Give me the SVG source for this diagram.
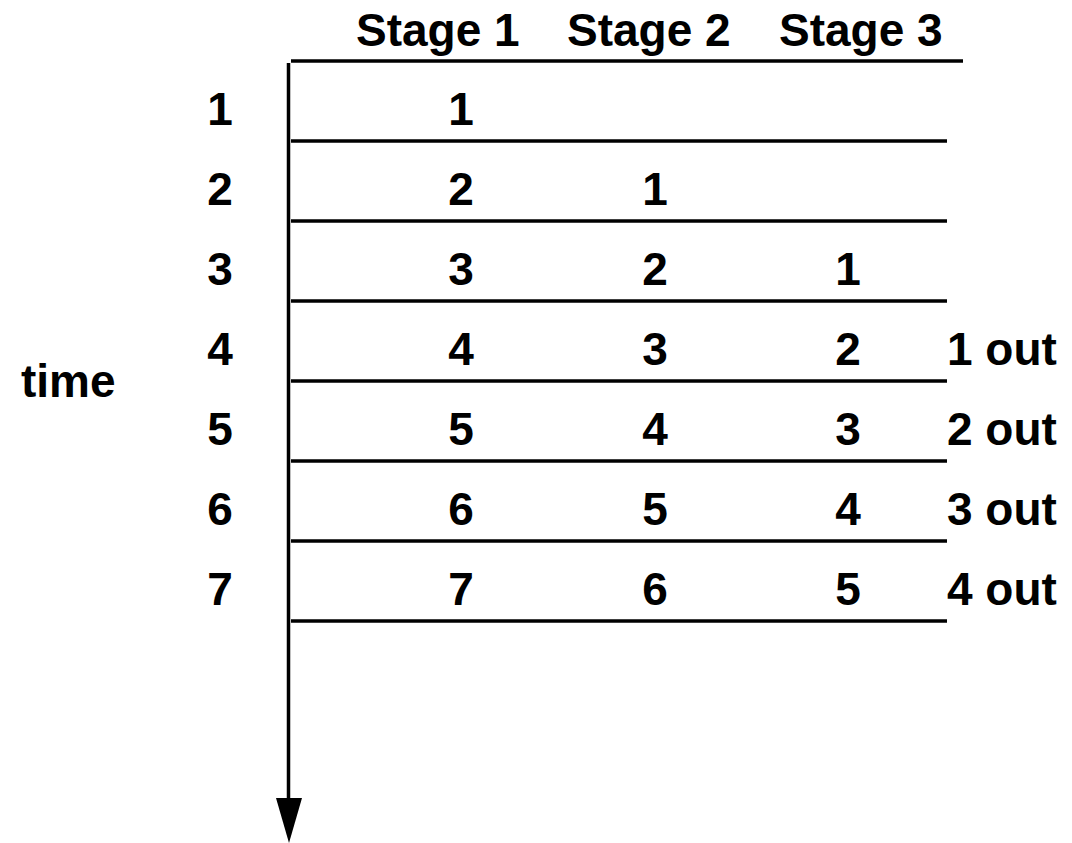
<svg xmlns="http://www.w3.org/2000/svg" width="1072" height="843" viewBox="0 0 1072 843">
  <style>
    text { font-family: "Liberation Sans", Arial, sans-serif; font-weight: bold; font-size: 46px; fill: #000; }
    .mid { text-anchor: middle; }
    .rule { stroke: #000; stroke-width: 3.5; fill: none; }
  </style>
  <rect width="1072" height="843" fill="#fff"/>

  <!-- column headings -->
  <g id="headers">
    <text x="356" y="46">Stage 1</text>
    <text x="567" y="46">Stage 2</text>
    <text x="779" y="46">Stage 3</text>
  </g>

  <!-- time axis and row separators -->
  <g id="connectors">
    <line class="rule" x1="291" y1="61" x2="963" y2="61"/>
    <line class="rule" x1="291" y1="141" x2="947" y2="141"/>
    <line class="rule" x1="291" y1="221" x2="947" y2="221"/>
    <line class="rule" x1="291" y1="301" x2="947" y2="301"/>
    <line class="rule" x1="291" y1="381" x2="947" y2="381"/>
    <line class="rule" x1="291" y1="461" x2="947" y2="461"/>
    <line class="rule" x1="291" y1="541" x2="947" y2="541"/>
    <line class="rule" x1="291" y1="621" x2="947" y2="621"/>
    <line class="rule" x1="288.5" y1="63" x2="288.5" y2="800"/>
    <polygon points="276,798 302,798 289,843" fill="#000"/>
  </g>

  <g id="time-label">
    <text x="21" y="397">time</text>
  </g>

  <!-- clock cycle numbers -->
  <g id="cycles">
    <text class="mid" x="220" y="125">1</text>
    <text class="mid" x="220" y="205">2</text>
    <text class="mid" x="220" y="285">3</text>
    <text class="mid" x="220" y="365">4</text>
    <text class="mid" x="220" y="445">5</text>
    <text class="mid" x="220" y="525">6</text>
    <text class="mid" x="220" y="605">7</text>
  </g>

  <!-- instructions in stage 1 -->
  <g id="stage1">
    <text class="mid" x="461" y="125">1</text>
    <text class="mid" x="461" y="205">2</text>
    <text class="mid" x="461" y="285">3</text>
    <text class="mid" x="461" y="365">4</text>
    <text class="mid" x="461" y="445">5</text>
    <text class="mid" x="461" y="525">6</text>
    <text class="mid" x="461" y="605">7</text>
  </g>

  <!-- instructions in stage 2 -->
  <g id="stage2">
    <text class="mid" x="655" y="205">1</text>
    <text class="mid" x="655" y="285">2</text>
    <text class="mid" x="655" y="365">3</text>
    <text class="mid" x="655" y="445">4</text>
    <text class="mid" x="655" y="525">5</text>
    <text class="mid" x="655" y="605">6</text>
  </g>

  <!-- instructions in stage 3 -->
  <g id="stage3">
    <text class="mid" x="848" y="285">1</text>
    <text class="mid" x="848" y="365">2</text>
    <text class="mid" x="848" y="445">3</text>
    <text class="mid" x="848" y="525">4</text>
    <text class="mid" x="848" y="605">5</text>
  </g>

  <!-- completed instructions -->
  <g id="outputs">
    <text x="947" y="365">1 out</text>
    <text x="947" y="445">2 out</text>
    <text x="947" y="525">3 out</text>
    <text x="947" y="605">4 out</text>
  </g>
</svg>
